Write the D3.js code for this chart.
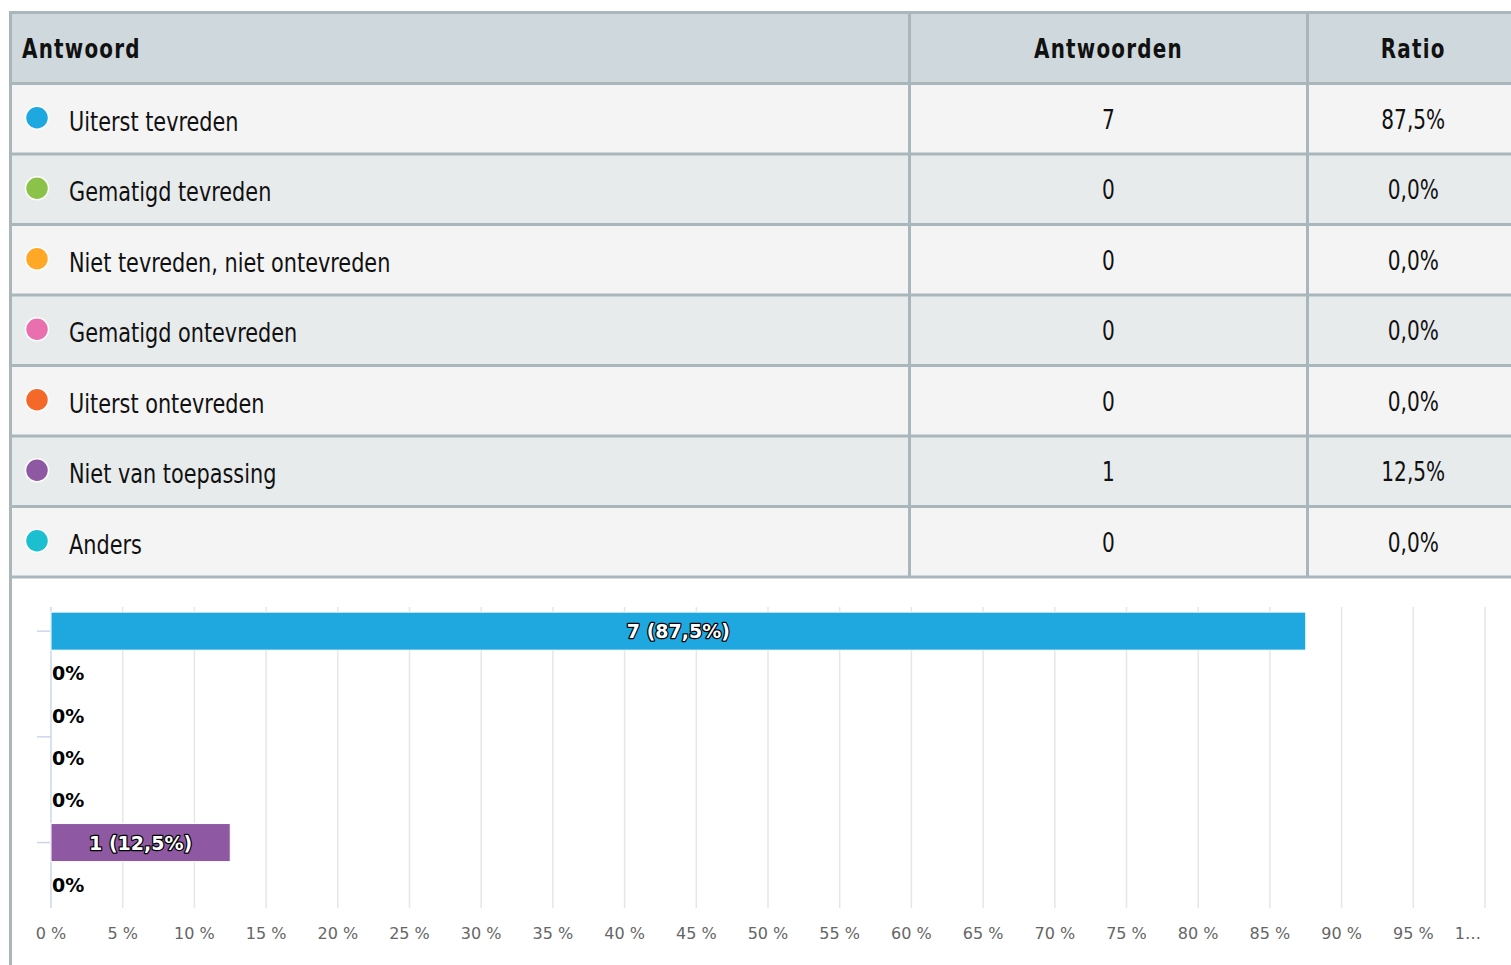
<!DOCTYPE html>
<html>
<head>
<meta charset="utf-8">
<script src="https://cdn.jsdelivr.net/npm/d3@7"></script>
<style>
  body { margin: 0; background: #fff; }
  svg { display: block; }
</style>
</head>
<body>
<div id="chart"></div>
<script>
let answers = ["Uiterst tevreden", "Gematigd tevreden", "Niet tevreden, niet ontevreden", "Gematigd ontevreden", "Uiterst ontevreden", "Niet van toepassing", "Anders"];
let counts = [7, 0, 0, 0, 0, 1, 0];
let ratios = [87.5, 0, 0, 0, 0, 12.5, 0];
let colors = ["#1fa8e0", "#8bc34a", "#ffa726", "#e96fae", "#f4692a", "#8e58a3", "#1bbfcf"];
let headers = ["Antwoord", "Antwoorden", "Ratio"];
let xTicks = [0, 5, 10, 15, 20, 25, 30, 35, 40, 45, 50, 55, 60, 65, 70, 75, 80, 85, 90, 95, 100];

let width = 1511, height = 965;
let tableFont = "'DejaVu Sans Condensed', 'DejaVu Sans', sans-serif";
let chartFont = "'DejaVu Sans', Verdana, sans-serif";
let borderColor = "#a9b7bd";

let svg = d3.select("#chart").append("svg")
    .attr("width", width)
    .attr("height", height);

// ---- table ----
let tLeft = 10.5, tRight = 1519, tTop = 12.5, headH = 71;
let colEdges = [tLeft, 909.5, 1307.5, tRight];

let rowScale = d3.scaleBand()
    .domain(d3.range(answers.length))
    .range([tTop + headH, 577]);

svg.append("rect")
    .attr("x", tLeft).attr("y", tTop)
    .attr("width", tRight - tLeft).attr("height", headH)
    .attr("fill", "#cfd8dc");

svg.selectAll("rect.row")
    .data(answers)
    .enter()
    .append("rect")
    .attr("class", "row")
    .attr("x", tLeft)
    .attr("y", (d, i) => rowScale(i))
    .attr("width", tRight - tLeft)
    .attr("height", rowScale.bandwidth())
    .attr("fill", (d, i) => i % 2 === 0 ? "#f4f4f4" : "#e8ebec");

// horizontal lines
let hLines = [tTop, tTop + headH].concat(d3.range(answers.length).map(i => rowScale(i) + rowScale.bandwidth()));
svg.selectAll("line.hline")
    .data(hLines)
    .enter()
    .append("line")
    .attr("x1", tLeft).attr("x2", tRight)
    .attr("y1", d => d).attr("y2", d => d)
    .attr("stroke", borderColor)
    .attr("stroke-width", 3);

// vertical lines in table
svg.selectAll("line.vline")
    .data(colEdges.slice(1, 3))
    .enter()
    .append("line")
    .attr("x1", d => d).attr("x2", d => d)
    .attr("y1", tTop).attr("y2", rowScale(answers.length - 1) + rowScale.bandwidth())
    .attr("stroke", borderColor)
    .attr("stroke-width", 3);

// outer left border runs to the bottom
svg.append("line")
    .attr("x1", tLeft).attr("x2", tLeft)
    .attr("y1", tTop - 1.5).attr("y2", height)
    .attr("stroke", borderColor)
    .attr("stroke-width", 3);

// narrow text helper: squeeze horizontally, x given in page coords
function narrowText(sel, sx, xPos, yPos) {
    return sel.attr("transform", (d, i) => `translate(${xPos(d, i)},${yPos(d, i)}) scale(${sx},1)`);
}

narrowText(svg.selectAll("text.head")
    .data(headers)
    .enter()
    .append("text"), 0.82,
    (d, i) => i === 0 ? 22 : (colEdges[i] + colEdges[i + 1]) / 2,
    () => tTop + 45)
    .attr("text-anchor", (d, i) => i === 0 ? "start" : "middle")
    .attr("font-family", tableFont).attr("font-weight", "bold")
    .attr("font-size", 27).attr("letter-spacing", 1.5)
    .attr("fill", "#111")
    .text(d => d);

let rowMid = i => rowScale(i) + rowScale.bandwidth() / 2;

svg.selectAll("circle.dot")
    .data(colors)
    .enter()
    .append("circle")
    .attr("cx", 37)
    .attr("cy", (d, i) => rowMid(i) - 1)
    .attr("r", 11.5)
    .attr("fill", d => d)
    .attr("stroke", "#fff")
    .attr("stroke-width", 1.5);

narrowText(svg.selectAll("text.answer")
    .data(answers)
    .enter()
    .append("text"), 0.89,
    () => 69, (d, i) => rowMid(i) + 12)
    .attr("font-family", tableFont).attr("font-size", 26)
    .attr("fill", "#111")
    .text(d => d);

narrowText(svg.selectAll("text.count")
    .data(counts)
    .enter()
    .append("text"), 0.86,
    () => (colEdges[1] + colEdges[2]) / 2, (d, i) => rowMid(i) + 10)
    .attr("text-anchor", "middle")
    .attr("font-family", tableFont).attr("font-size", 26)
    .attr("fill", "#111")
    .text(d => d);

let fmtPct = v => v.toFixed(1).replace(".", ",") + "%";
narrowText(svg.selectAll("text.ratio")
    .data(ratios)
    .enter()
    .append("text"), 0.86,
    () => (colEdges[2] + colEdges[3]) / 2, (d, i) => rowMid(i) + 10)
    .attr("text-anchor", "middle")
    .attr("font-family", tableFont).attr("font-size", 26)
    .attr("fill", "#111")
    .text(d => fmtPct(d));

// ---- bar chart ----
let plotTop = 607, plotBottom = 908;
let x = d3.scaleLinear().domain([0, 100]).range([51, 1485]);
let y = d3.scaleBand()
    .domain(d3.range(answers.length))
    .range([610, 906])
    .paddingInner(0.1)
    .paddingOuter(0.05);

// gridlines
svg.selectAll("line.grid")
    .data(xTicks.filter(t => t > 0))
    .enter()
    .append("line")
    .attr("x1", d => x(d)).attr("x2", d => x(d))
    .attr("y1", plotTop).attr("y2", plotBottom)
    .attr("stroke", "#e6e6e6")
    .attr("stroke-width", 1.5);

// y axis line + ticks
svg.append("line")
    .attr("x1", x(0)).attr("x2", x(0))
    .attr("y1", plotTop).attr("y2", plotBottom)
    .attr("stroke", "#ccd6eb")
    .attr("stroke-width", 1.5);

let yTickIdx = [0, 2.5, 5];
let yMid = i => y(0) + y.bandwidth() / 2 + i * y.step();
svg.selectAll("line.ytick")
    .data(yTickIdx)
    .enter()
    .append("line")
    .attr("x1", x(0) - 14).attr("x2", x(0))
    .attr("y1", d => yMid(d)).attr("y2", d => yMid(d))
    .attr("stroke", "#ccd6eb")
    .attr("stroke-width", 1.5);

// x axis labels
svg.selectAll("text.xlabel")
    .data(xTicks)
    .enter()
    .append("text")
    .attr("x", d => d === 100 ? x(d) - 4 : x(d))
    .attr("y", 939)
    .attr("text-anchor", d => d === 100 ? "end" : "middle")
    .attr("font-family", chartFont).attr("font-size", 16)
    .attr("fill", "#666")
    .text(d => d === 100 ? "1…" : d + " %");

// bars
let barData = answers.map((a, i) => ({ i: i, count: counts[i], ratio: ratios[i], color: colors[i] }));
svg.selectAll("rect.bar")
    .data(barData.filter(d => d.ratio > 0))
    .enter()
    .append("rect")
    .attr("class", "bar")
    .attr("x", x(0))
    .attr("y", d => y(d.i))
    .attr("width", d => x(d.ratio) - x(0))
    .attr("height", y.bandwidth())
    .attr("fill", d => d.color)
    .attr("stroke", "#fff")
    .attr("stroke-width", 1);

// data labels
svg.selectAll("text.dlabel")
    .data(barData)
    .enter()
    .append("text")
    .attr("x", d => d.ratio > 0 ? (x(0) + x(d.ratio)) / 2 : x(0) + 1)
    .attr("y", d => y(d.i) + y.bandwidth() / 2 + 7)
    .attr("text-anchor", d => d.ratio > 0 ? "middle" : "start")
    .attr("font-family", chartFont).attr("font-size", 19).attr("font-weight", "bold")
    .attr("fill", d => d.ratio > 0 ? "#fff" : "#000")
    .attr("stroke", d => d.ratio > 0 ? "#000" : "#fff")
    .attr("stroke-width", 2.5)
    .attr("stroke-linejoin", "round")
    .attr("paint-order", "stroke")
    .text(d => d.ratio > 0 ? d.count + " (" + fmtPct(d.ratio) + ")" : "0%");
</script>
</body>
</html>
